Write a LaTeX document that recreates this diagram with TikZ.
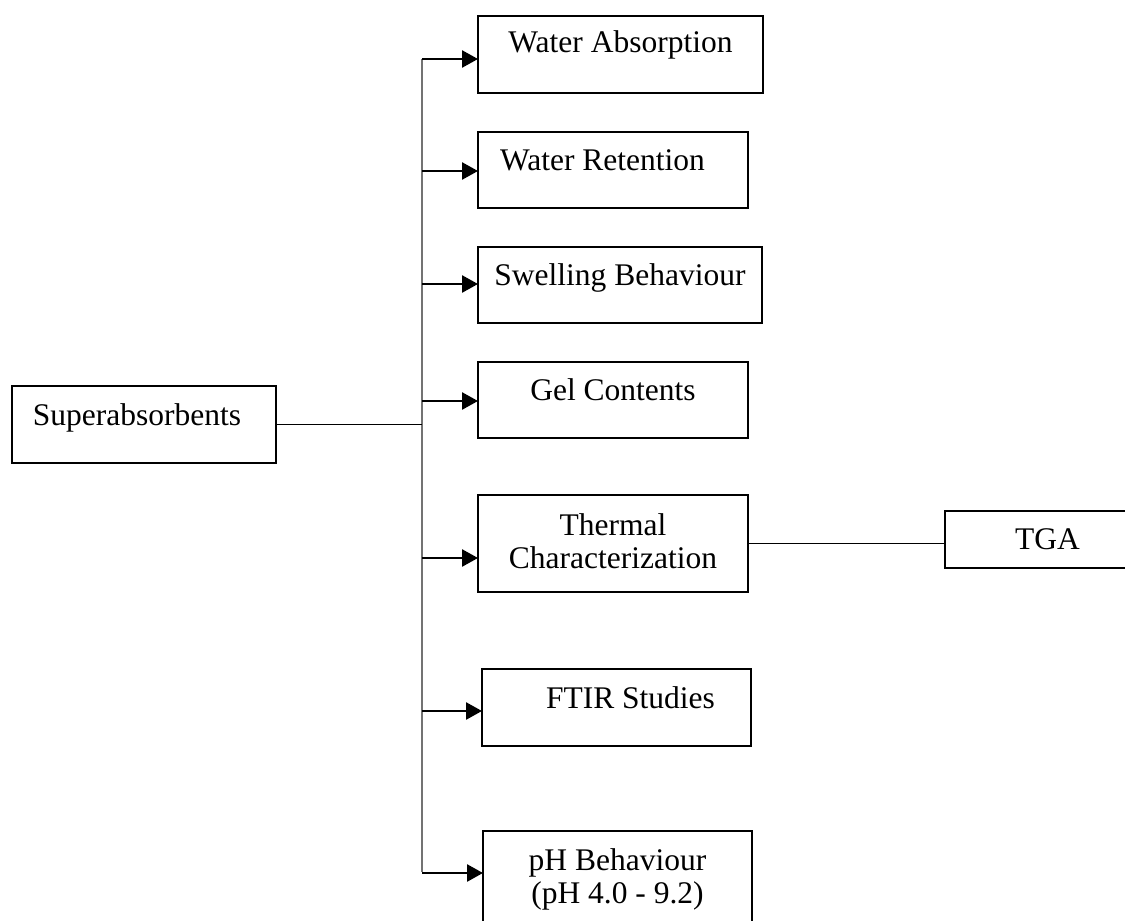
\documentclass[tikz,border=0pt]{standalone}
\usepackage{fontspec}
\setmainfont{Liberation Serif}
\usepackage{tikz}
\usetikzlibrary{arrows.meta}

\begin{document}
\begin{tikzpicture}[x=0.5pt, y=-0.5pt,
  font=\fontsize{15.75}{16.5}\selectfont,
  box/.style={draw=black, line width=0.9pt, inner sep=0pt, outer sep=0pt,
    anchor=north west, text=black},
  arr/.style={draw=black, line width=1.3pt, -{Triangle[length=8pt, width=8.5pt]}},
  trunk/.style={draw=black!55, line width=0.6pt},
  conn/.style={draw=black, line width=0.5pt}]
\clip (0,0) rectangle (1125,921);
\node[box, minimum width=132pt, text height=19.5pt, text depth=19pt] (super) at (12,386) {Superabsorbents\hspace*{7pt}};
\node[box, minimum width=142.5pt, text height=18.5pt, text depth=20pt] (wabs) at (478,16) {Water Absorption};
\node[box, minimum width=135pt, text height=19pt, text depth=19pt] (wret) at (478,132) {Water Retention\hspace*{10.5pt}};
\node[box, minimum width=142pt, text height=19pt, text depth=19pt] (swell) at (478,247) {Swelling Behaviour};
\node[box, minimum width=135pt, text height=19pt, text depth=19pt] (gel) at (478,362) {Gel Contents};
\node[box, align=center, minimum width=135pt, text height=36.5pt, text depth=12pt] (therm) at (478,495) {Thermal\\ Characterization};
\node[box, minimum width=134.5pt, text height=19.5pt, text depth=19pt] (ftir) at (482,669) {\hspace*{14pt}FTIR Studies};
\node[box, align=center, minimum width=134.5pt, text height=36pt, text depth=18.5pt] (ph) at (483,831) {pH Behaviour\\ (pH 4.0 - 9.2)};
\node[box, minimum width=102.5pt, text height=19pt, text depth=9.5pt] (tga) at (945,511) {TGA};
% trunk line and branches
\coordinate (top) at (422,59);
\coordinate (bot) at (422,872);
\draw[trunk] (top) -- (bot);
\draw[conn] (super.east) -- (super.east -| top);
\draw[conn] (therm.east) -- (therm.east -| tga.west);
\foreach \n/\y in {wabs/59,wret/171,swell/284,gel/401,therm/558,ftir/711,ph/873}{
  \coordinate (s\n) at (422,\y);
  \draw[arr] (s\n) -- (s\n -| \n.west);
}
\end{tikzpicture}
\end{document}
